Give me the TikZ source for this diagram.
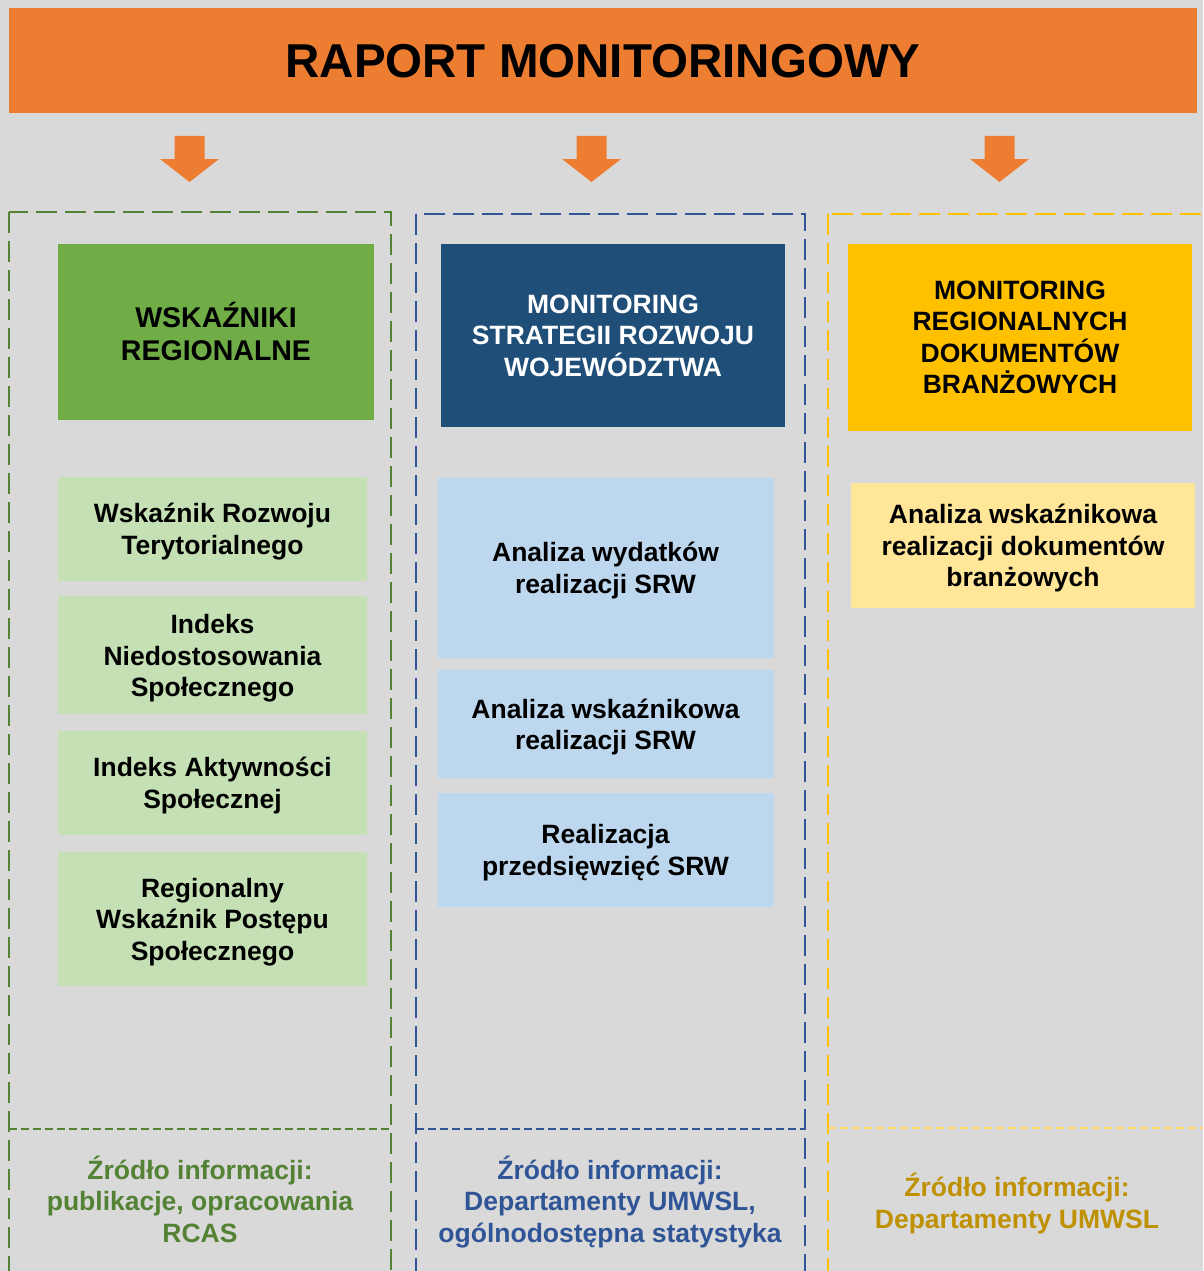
\documentclass[tikz,border=0pt]{standalone}
\usepackage{fontspec}
\setmainfont{Liberation Sans}
\usetikzlibrary{positioning}
\definecolor{bg}{HTML}{D9D9D9}
\definecolor{rorange}{HTML}{ED7D31}
\definecolor{ggreen}{HTML}{70AD47}
\definecolor{glight}{HTML}{C5E0B4}
\definecolor{gdark}{HTML}{548235}
\definecolor{bblue}{HTML}{1F4E79}
\definecolor{blight}{HTML}{BDD7EE}
\definecolor{bdark}{HTML}{2F5597}
\definecolor{yyellow}{HTML}{FFC000}
\definecolor{ylight}{HTML}{FFE699}
\definecolor{ydark}{HTML}{BF9000}
\definecolor{yline}{HTML}{FFD966}
\newcommand{\boxfont}{\fontsize{26.5}{31.5}\selectfont\bfseries}
\newcommand{\bigboxfont}{\fontsize{28.5}{33}\selectfont\bfseries}
\newcommand{\titlefont}{\fontsize{47.5}{56}\selectfont\bfseries}
\tikzset{head node/.style={rectangle,fill=#1,inner sep=0pt,align=center,font=\boxfont},
sub node/.style={rectangle,fill=#1,inner sep=0pt,align=center,font=\boxfont,minimum width=309pt,text depth=0pt},
src node/.style={text=#1,inner sep=0pt,align=center,font=\boxfont,text depth=0pt},
frame/.style={draw=#1,line width=2.7pt,dash pattern=on 21pt off 8pt},
divider/.style={draw=#1,line width=2pt,dash pattern=on 8pt off 4pt},
}

\begin{document}
\begin{tikzpicture}[x=1pt,y=-1pt]
		\useasboundingbox (0,0) rectangle (1203,1271);
		\fill[bg] (0,0) rectangle (1203,1271);
		
		% naglowek
		\node[head node=rorange,minimum width=1188pt,minimum height=105pt,font=\titlefont,text depth=0pt] (title) at (603,60.5) {RAPORT MONITORINGOWY};
		\foreach \x in {189.5,591.5,999.5}
		\fill[rorange] (\x-15,136) -- (\x+15,136) -- (\x+15,159) -- (\x+29.5,159)
		-- (\x,182) -- (\x-29.5,159) -- (\x-15,159) -- cycle;
		
		% ramki
		\draw[frame=gdark] (9,212) rectangle (391,1275);
		\draw[frame=bdark] (416,214) rectangle (805,1275);
		\draw[frame=yyellow] (828,214) rectangle (1215,1275);
		\draw[divider=gdark] (9,1129) -- (391,1129);
		\draw[divider=bdark] (416,1129) -- (805,1129);
		\draw[divider=yline] (828,1128) -- (1203,1128);
		
		% kolumna 1
		\node[head node=ggreen,minimum width=316pt,minimum height=176pt,font=\bigboxfont] (g) at (216,332) {WSKAŹNIKI\\REGIONALNE};
		\node[sub node=glight,minimum height=104pt] (g1) at (212.5,529) {Wskaźnik Rozwoju\\Terytorialnego};
		\node[sub node=glight,minimum height=118pt] (g2) [below = 15pt of g1] {Indeks\\Niedostosowania\\Społecznego};
		\node[sub node=glight,minimum height=104pt] (g3) [below = 16pt of g2] {Indeks Aktywności\\Społecznej};
		\node[sub node=glight,minimum height=134pt] (g4) [below = 17pt of g3] {Regionalny\\Wskaźnik Postępu\\Społecznego};
		\node[src node=gdark] (gs) at (200,1199) {Źródło informacji:\\publikacje, opracowania\\RCAS};
		
		% kolumna 2
		\node[head node=bblue,text=white,minimum width=344pt,minimum height=183pt] (b) at (613,335.5) {MONITORING\\STRATEGII ROZWOJU\\WOJEWÓDZTWA};
		\node[sub node=blight,minimum width=336pt,minimum height=180pt] (b1) at (605.5,568) {Analiza wydatków\\realizacji SRW};
		\node[sub node=blight,minimum width=336pt,minimum height=108pt] (b2) [below = 12pt of b1] {Analiza wskaźnikowa\\realizacji SRW};
		\node[sub node=blight,minimum width=336pt,minimum height=114pt] (b3) [below = 14pt of b2] {Realizacja\\przedsięwzięć SRW};
		\node[src node=bdark] (bs) at (610,1199) {Źródło informacji:\\Departamenty UMWSL,\\ogólnodostępna statystyka};
		
		% kolumna 3
		\node[head node=yyellow,minimum width=344pt,minimum height=187pt] (y) at (1020,337.5) {MONITORING\\REGIONALNYCH\\DOKUMENTÓW\\BRANŻOWYCH};
		\node[sub node=ylight,minimum width=344pt,minimum height=125pt] (y1) at (1023,545.5) {Analiza wskaźnikowa\\realizacji dokumentów\\branżowych};
		\node[src node=ydark] (ys) at (1017,1200.5) {Źródło informacji:\\Departamenty UMWSL};
\end{tikzpicture}
\end{document}
